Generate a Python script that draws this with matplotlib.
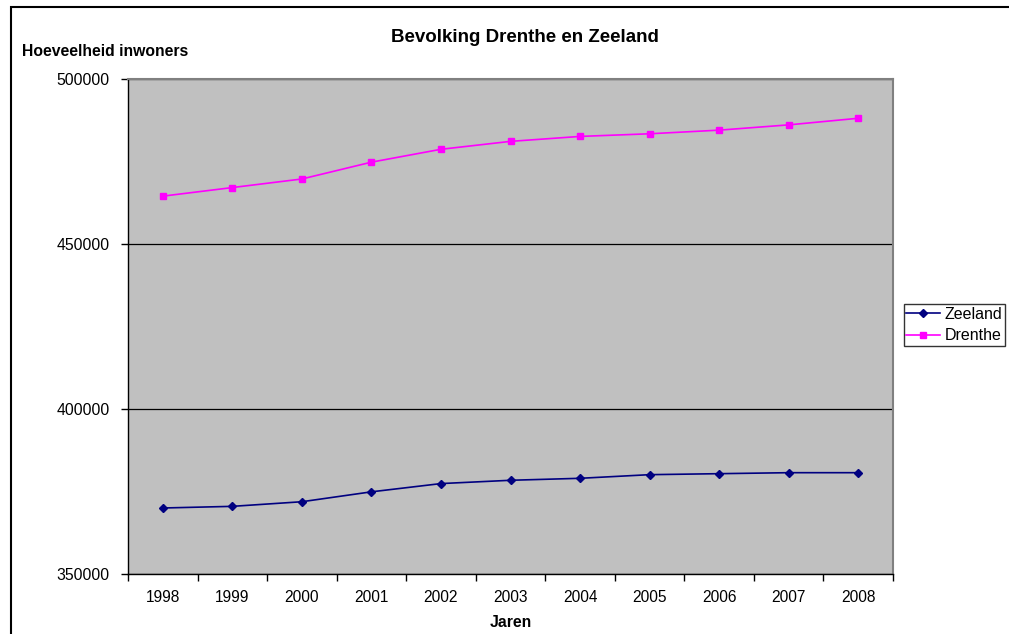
import numpy as np
import matplotlib.pyplot as plt
from matplotlib.patches import Rectangle

plt.rcParams['font.family'] = ['Liberation Sans', 'DejaVu Sans']

# gegevens
jaren = ['1998', '1999', '2000', '2001', '2002', '2003', '2004', '2005', '2006', '2007', '2008']
zeeland = [370000, 370500, 371900, 374900, 377400, 378400, 379000, 380100, 380400, 380700, 380700]
drenthe = [464500, 467100, 469700, 474800, 478700, 481100, 482600, 483400, 484500, 486100, 488100]

W, H = 1009, 634
fig = plt.figure(figsize=(W / 100, H / 100), dpi=100)

# rand om de grafiek
fig.patches.append(Rectangle((11 / W, -0.1), 1.2, 1 - 7 / H + 0.1, transform=fig.transFigure,
                             fill=False, edgecolor='black', linewidth=1.5))

ax = fig.add_axes([128 / W, 1 - 574 / H, (893 - 128) / W, (574 - 79) / H])
ax.set_facecolor('#c0c0c0')

x = np.arange(len(jaren))
ax.plot(x, zeeland, color='#000080', marker='D', markersize=3.8, linewidth=1.2, label='Zeeland')
ax.plot(x, drenthe, color='#ff00ff', marker='s', markersize=4.3, linewidth=1.2, label='Drenthe')

ax.set_xlim(-0.5, len(jaren) - 0.5)
ax.set_ylim(350000, 500000)
ax.set_yticks([350000, 400000, 450000, 500000])
ax.set_yticklabels(['350000', '400000', '450000', '500000'])
ax.yaxis.grid(True, color='black', linewidth=0.9)
ax.set_axisbelow(True)

ax.set_xticks(x)
ax.set_xticklabels(jaren)
ax.set_xticks(np.arange(-0.5, len(jaren)), minor=True)
ax.tick_params(axis='x', which='major', length=0, pad=11.5, labelsize=11.2)
ax.tick_params(axis='x', which='minor', length=5, direction='out', width=1)
ax.tick_params(axis='y', length=5, direction='out', width=1, labelsize=11.3, pad=8)

for s in ['top', 'right']:
    ax.spines[s].set_color('#808080')
    ax.spines[s].set_linewidth(1.5)
for s in ['left', 'bottom']:
    ax.spines[s].set_color('black')
    ax.spines[s].set_linewidth(1)

fig.text(525 / W, 1 - 38 / H, 'Bevolking Drenthe en Zeeland', ha='center', va='center',
         fontsize=13.5, fontweight='bold')
fig.text(22 / W, 1 - 52 / H, 'Hoeveelheid inwoners', ha='left', va='center',
         fontsize=11.3, fontweight='bold')
ax.set_xlabel('Jaren', fontsize=11.3, fontweight='bold', labelpad=7)

leg = ax.legend(loc='center left', bbox_to_anchor=(904 / W, 1 - 325 / H),
                bbox_transform=fig.transFigure, frameon=True, fancybox=False,
                fontsize=11.5, handlelength=2.1, handletextpad=0.3, borderpad=0.15,
                labelspacing=0.4, borderaxespad=0)
leg.get_frame().set_edgecolor('black')
leg.get_frame().set_linewidth(1)

fig.savefig('out.png', dpi=100)
